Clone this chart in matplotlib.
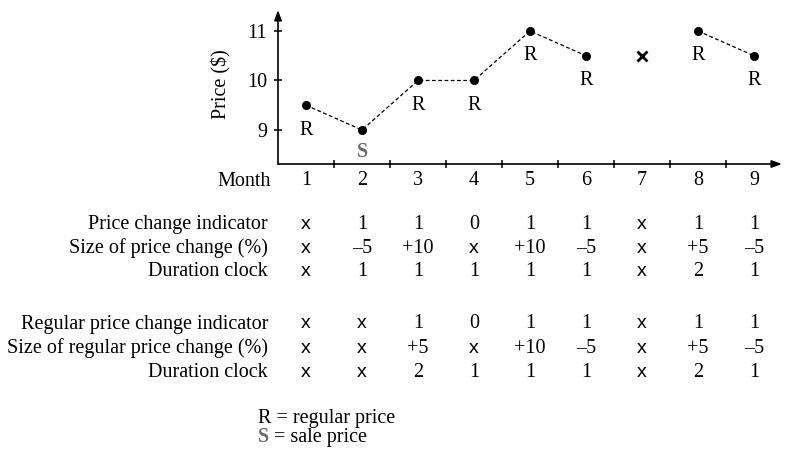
import numpy as np
import matplotlib
matplotlib.use("Agg")
import matplotlib.pyplot as plt
import matplotlib.transforms as mtransforms

# ---- data ----
months = [1, 2, 3, 4, 5, 6, 7, 8, 9]
prices = [9.5, 9.0, 10.0, 10.0, 11.0, 10.5, 10.5, 11.0, 10.5]
price_types = ["R", "S", "R", "R", "R", "R", "X", "R", "R"]
yticks = [9, 10, 11]

row_labels = ["Price change indicator", "Size of price change (%)", "Duration clock",
              "Regular price change indicator", "Size of regular price change (%)", "Duration clock"]
price_change_ind = ["x", "1", "1", "0", "1", "1", "x", "1", "1"]
price_change_size = ["x", "\u20135", "+10", "x", "+10", "\u20135", "x", "+5", "\u20135"]
duration_clock = ["x", "1", "1", "1", "1", "1", "x", "2", "1"]
reg_change_ind = ["x", "x", "1", "0", "1", "1", "x", "1", "1"]
reg_change_size = ["x", "x", "+5", "x", "+10", "\u20135", "x", "+5", "\u20135"]
reg_duration_clock = ["x", "x", "2", "1", "1", "1", "x", "2", "1"]
table_rows = [price_change_ind, price_change_size, duration_clock,
              reg_change_ind, reg_change_size, reg_duration_clock]

SERIF = "Liberation Serif"
SANS = "Liberation Sans"
FS = 14.5
W, H = 786, 461

fig = plt.figure(figsize=(W / 100, H / 100), dpi=100)
ax = fig.add_axes([278 / W, (H - 164) / H, 504 / W, 154 / H])
ax.set_xlim(0.5, 9.5)
ax.set_ylim(8.313, 11.424)
for s in ax.spines.values():
    s.set_visible(False)
ax.patch.set_visible(False)

# axes arrows
arrow_style = "-|>,head_length=0.6,head_width=0.22"
ax.annotate("", xy=(1.0, 0), xytext=(0, 0), xycoords="axes fraction",
            arrowprops=dict(arrowstyle=arrow_style, lw=1.2, color="black", shrinkA=0, shrinkB=0))
ax.annotate("", xy=(0, 1.0), xytext=(0, 0), xycoords="axes fraction",
            arrowprops=dict(arrowstyle=arrow_style, lw=1.2, color="black", shrinkA=0, shrinkB=0))

# ticks
ax.set_xticks([m + 0.5 for m in months[:-1]])
ax.set_xticklabels([])
ax.set_xticks(months, minor=True)
ax.set_xticklabels([str(m) for m in months], minor=True, fontfamily=SERIF, fontsize=FS)
ax.tick_params(axis="x", which="major", direction="inout", length=6, width=1.1)
ax.tick_params(axis="x", which="minor", length=0, pad=5)
ax.set_yticks(yticks)
ax.set_yticklabels([str(v) for v in yticks], fontfamily=SERIF, fontsize=FS)
ax.tick_params(axis="y", direction="inout", length=6, width=1.1, pad=5)

fig.text(221 / W, 1 - 84 / H, "Price ($)", rotation=90, ha="center", va="center",
         fontfamily=SERIF, fontsize=FS)

# dashed line segments (break at missing month)
line_y = [p if t != "X" else np.nan for p, t in zip(prices, price_types)]
ax.plot(months, line_y, ls=(0, (3, 2)), color="black", lw=0.9)
pts_x = [m for m, t in zip(months, price_types) if t != "X"]
pts_y = [p for p, t in zip(prices, price_types) if t != "X"]
ax.plot(pts_x, pts_y, "o", color="black", ms=5.5)
miss_x = [m for m, t in zip(months, price_types) if t == "X"]
miss_y = [p for p, t in zip(prices, price_types) if t == "X"]
ax.plot(miss_x, miss_y, "x", color="black", ms=7, mew=2)

for m, p, t in zip(months, prices, price_types):
    if t == "R":
        ax.annotate("R", (m, p), xytext=(0, -18), textcoords="offset points",
                    ha="center", va="center", fontfamily=SERIF, fontsize=FS)
    elif t == "S":
        ax.annotate("S", (m, p), xytext=(0, -16), textcoords="offset points",
                    ha="center", va="center", fontfamily=SERIF, fontsize=FS,
                    fontweight="bold", color="#6b6b6b")

def fy(px):
    return 1 - px / H

fig.text(271 / W, fy(181), "Month", ha="right", va="center", fontfamily=SERIF, fontsize=FS)

trans = mtransforms.blended_transform_factory(ax.transData, fig.transFigure)
row_y = [224, 248, 272, 324, 348, 372]
for lab, vals, y in zip(row_labels, table_rows, row_y):
    fig.text(268 / W, fy(y), lab, ha="right", va="center", fontfamily=SERIF, fontsize=FS)
    for m, v in zip(months, vals):
        if v == "x":
            fig.text(m, fy(y), "x", transform=trans, ha="center", va="center",
                     fontfamily=SANS, fontsize=FS - 0.5)
        else:
            fig.text(m, fy(y), v, transform=trans, ha="center", va="center",
                     fontfamily=SERIF, fontsize=FS)

fig.text(258 / W, fy(418), "R = regular price", ha="left", va="center", fontfamily=SERIF, fontsize=FS)
fig.text(258 / W, fy(437), "S", ha="left", va="center", fontfamily=SERIF, fontsize=FS,
         fontweight="bold", color="#6b6b6b")
fig.text(269 / W, fy(437), " = sale price", ha="left", va="center", fontfamily=SERIF, fontsize=FS)

fig.savefig("out.png", dpi=100)
